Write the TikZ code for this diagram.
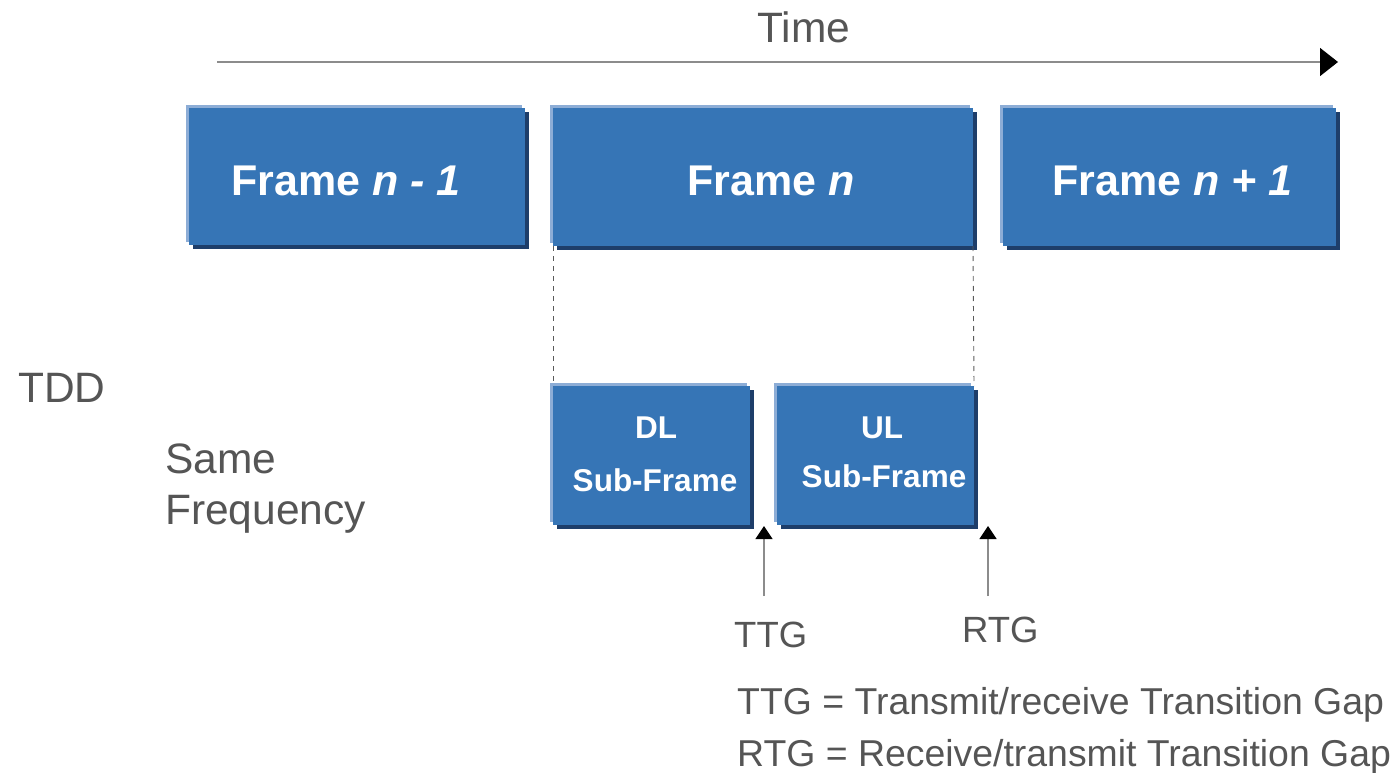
\documentclass[tikz,border=0pt]{standalone}
\usepackage{fontspec}
\setmainfont{Liberation Sans}
\usetikzlibrary{arrows.meta,shadows}
\definecolor{boxfill}{RGB}{54,117,182}
\definecolor{boxlight}{RGB}{141,173,214}
\definecolor{boxdark}{RGB}{30,62,106}
\definecolor{txtgray}{RGB}{85,85,85}
\definecolor{linegray}{RGB}{140,140,140}
\definecolor{dashgray}{RGB}{90,90,90}
\begin{document}
\begin{tikzpicture}[x=1pt,y=-1pt,
  box/.style={rectangle, fill=boxfill, inner sep=0pt, outer sep=0pt, anchor=north west,
     general shadow={shadow xshift=-3pt, shadow yshift=3pt, fill=boxlight},
     general shadow={shadow xshift=4pt, shadow yshift=-4pt, fill=boxdark}},
  frametext/.style={text=white, font=\bfseries\fontsize{43}{51}\selectfont, inner sep=0pt, anchor=base west},
  subtext/.style={text=white, font=\bfseries\fontsize{31.5}{37}\selectfont, inner sep=0pt, anchor=base},
  plain/.style={text=txtgray, inner sep=0pt, anchor=base west, font=\fontsize{42.5}{50}\selectfont},
  small/.style={text=txtgray, inner sep=0pt, anchor=base west, font=\fontsize{36.5}{43}\selectfont},
  legend/.style={text=txtgray, inner sep=0pt, anchor=base west, font=\fontsize{37.4}{44}\selectfont},
  timeline/.style={line width=1.6pt, draw=linegray, -{Triangle[length=18pt,width=28pt,color=black]}},
  gapline/.style={line width=1.3pt, draw=linegray, -{Triangle[length=13pt,width=17pt,color=black]}},
  guide/.style={line width=0.9pt, draw=dashgray, dash pattern=on 5pt off 5pt}
]
\useasboundingbox (0,0) rectangle (1391,773);

% time axis
\node[plain] (time) at (757,43) {Time};
\coordinate (tA) at (217,62);
\coordinate (tB) at (1338,62);
\draw[timeline] (tA) -- (tB);

% frames
\node[box, minimum width=336pt, minimum height=137pt] (f1) at (189,108) {};
\node[box, minimum width=420pt, minimum height=138pt] (f2) at (553,108) {};
\node[box, minimum width=333pt, minimum height=138pt] (f3) at (1003,108) {};
\node[frametext] (f1t) at (231,195) {Frame \textit{n - 1}};
\node[frametext] (f2t) at (687,195) {Frame \textit{n}};
\node[frametext] (f3t) at (1052,195) {Frame \textit{n + 1}};

% sub-frames
\node[box, minimum width=197pt, minimum height=139pt] (dl) at (553,386) {};
\node[box, minimum width=197pt, minimum height=139pt] (ul) at (777,386) {};
\node[subtext] (dlt1) at (656,438) {DL};
\node[subtext] (dlt2) at (655,491) {Sub-Frame};
\node[subtext] (ult1) at (882,438) {UL};
\node[subtext] (ult2) at (884,487) {Sub-Frame};

% guides
\draw[guide] (f2.south west) -- (dl.north west);
\draw[guide] (f2.south east) -- (ul.north east);

% left labels
\node[plain] (tdd) at (18,402) {TDD};
\node[plain] (same) at (165,473) {Same};
\node[plain] (freq) at (165,524) {Frequency};

% gap arrows
\coordinate (ttgfoot) at (764,596);
\coordinate (ttgtip) at (764,526);
\coordinate (rtgfoot) at (988,596);
\coordinate (rtgtip) at (988,526);
\draw[gapline] (ttgfoot) -- (ttgtip);
\draw[gapline] (rtgfoot) -- (rtgtip);
\node[small] (ttg) at (734,647) {TTG};
\node[small] (rtg) at (962,642) {RTG};

% legend
\node[legend] (leg1) at (737,714) {TTG = Transmit/receive Transition Gap};
\node[legend] (leg2) at (737,766) {RTG = Receive/transmit Transition Gap};
\end{tikzpicture}
\end{document}
